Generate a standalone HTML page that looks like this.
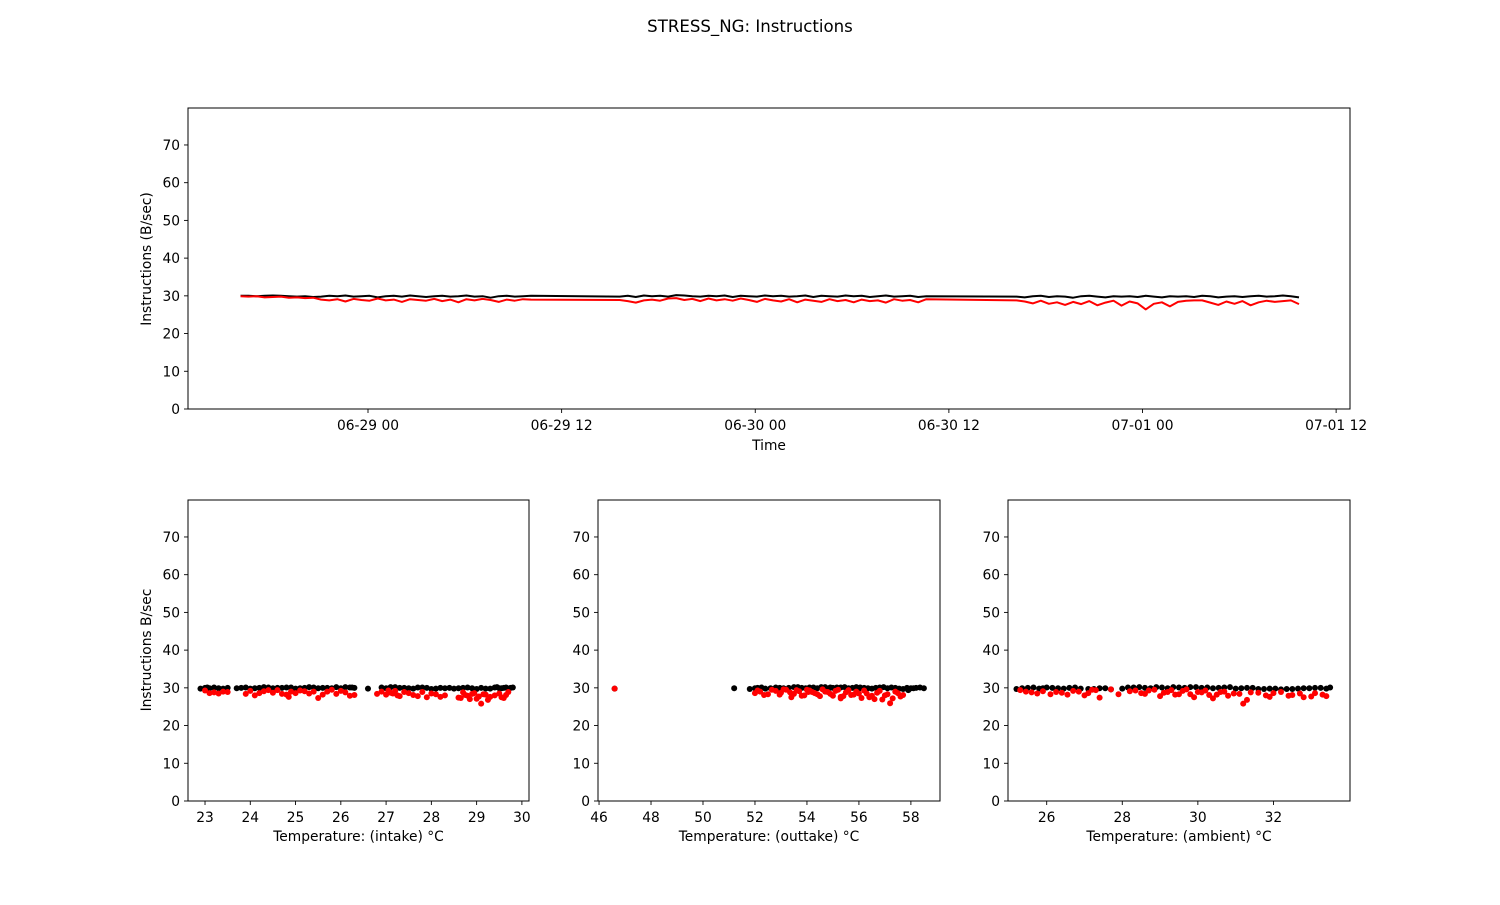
<!DOCTYPE html>
<html><head><meta charset="utf-8"><style>
body{margin:0;background:#fff;}
svg text{font-family:"DejaVu Sans","Liberation Sans",sans-serif;fill:#000;}
</style></head><body>
<svg id="fig" width="1500" height="900" xmlns="http://www.w3.org/2000/svg">
<rect width="1500" height="900" fill="#fff"/>
<text x="750" y="32" text-anchor="middle" font-size="16.6">STRESS_NG: Instructions</text>
</svg>
<script>
// Time series data (hours relative to 06-29 00:00)
const segStart = [-7.9, 15.6, 40.2];
const segStep = [0.5, 0.5, 0.5];
const blackSeg1 = [30.0,30.0,29.9,30.0,30.1,30.0,29.9,29.8,29.9,29.7,29.8,30.0,29.9,30.1,29.8,29.9,30.0,29.6,29.9,30.0,29.8,30.1,29.9,29.7,29.9,30.0,29.8,29.9,30.1,29.8,29.9,29.5,29.9,30.0,29.8,29.9,30.0];
const redSeg1 = [29.9,29.8,29.9,29.6,29.7,29.8,29.5,29.6,29.4,29.5,29.0,28.8,29.1,28.5,29.2,28.9,28.7,29.3,28.8,29.0,28.4,29.1,28.9,28.7,29.2,28.6,29.0,28.3,29.1,28.8,29.2,28.9,28.4,29.0,28.7,29.1,29.0];
const blackSeg2 = [29.8,30.0,29.7,30.1,29.9,30.0,29.8,30.2,30.1,29.9,29.8,30.0,29.9,30.1,29.7,30.0,29.9,29.8,30.1,29.9,30.0,29.8,29.9,30.1,29.7,30.0,29.9,29.8,30.1,29.9,30.0,29.7,29.9,30.1,29.8,29.9,30.0,29.7,29.9];
const redSeg2 = [28.9,28.6,28.2,28.8,29.0,28.7,29.3,29.4,28.9,29.2,28.6,29.3,28.8,29.1,28.7,29.3,28.9,28.4,29.2,28.8,28.5,29.1,28.3,29.0,28.7,28.4,29.1,28.6,28.9,28.3,29.0,28.6,28.8,28.2,29.1,28.7,28.9,28.3,29.1];
const blackSeg3 = [29.8,29.6,29.9,30.0,29.7,29.9,29.8,29.5,29.9,30.0,29.8,29.6,29.9,29.8,29.9,29.7,30.0,29.8,29.6,29.9,29.8,29.9,29.7,30.0,29.9,29.6,29.8,29.9,29.7,29.9,30.0,29.8,29.9,30.1,29.9,29.6];
const redSeg3 = [28.8,28.5,28.0,28.7,27.9,28.3,27.6,28.4,27.8,28.6,27.5,28.2,28.7,27.4,28.5,28.0,26.4,27.9,28.3,27.2,28.4,28.7,28.8,28.8,28.2,27.6,28.5,27.9,28.6,27.5,28.3,28.7,28.4,28.6,28.8,27.8];
const timeTicks = [0, 12, 24, 36, 48, 60];
const timeTickLabels = ["06-29 00","06-29 12","06-30 00","06-30 12","07-01 00","07-01 12"];
const yTicks = [0,10,20,30,40,50,60,70];

// Scatter data
const intakeBlackT = [22.9,23.0,23.1,23.2,23.4,23.5,23.7,23.9,24.0,24.2,24.4,24.5,24.7,24.9,25.0,25.2,25.4,25.5,25.7,25.9,26.0,26.2,26.3,26.6,26.9,27.0,27.2,27.4,27.6,27.8,28.0,28.2,28.3,28.5,28.7,28.9,29.0,29.1,29.3,29.4,29.5,29.6,29.7,29.8,
 23.05,23.3,23.8,24.1,24.3,24.6,24.8,25.1,25.3,25.6,25.8,26.1,26.25,27.1,27.3,27.5,27.7,27.9,28.1,28.6,28.8,29.2,29.45,29.55,29.65,29.75,28.4,27.05];
const intakeBlackV = [29.8,30.0,29.9,30.1,29.8,30.0,29.9,30.1,29.8,30.0,30.1,29.9,30.0,30.1,29.8,30.0,30.1,29.9,30.0,30.2,29.9,30.1,30.0,29.8,30.1,29.9,30.2,30.0,29.8,30.1,29.7,30.0,29.9,29.8,30.0,29.9,29.7,30.0,29.8,30.1,29.9,30.0,29.8,30.1,
 30.1,29.9,30.0,29.9,30.2,30.0,30.1,29.9,30.2,30.0,29.9,30.2,30.1,30.2,30.0,29.9,30.1,30.0,29.8,29.9,30.1,29.8,30.2,29.9,30.1,30.0,30.0,29.8];
const intakeRedT = [23.0,23.2,23.3,23.5,23.9,24.0,24.2,24.3,24.5,24.6,24.8,24.9,25.0,25.1,25.3,25.5,25.7,25.9,26.0,26.1,26.3,26.8,26.9,27.0,27.1,27.2,27.3,27.5,27.6,27.8,27.9,28.1,28.3,28.6,28.7,28.8,28.9,29.0,29.1,29.2,29.3,29.5,29.6,29.7,
 23.1,23.4,24.1,24.4,24.7,25.2,25.6,25.8,26.2,27.05,27.25,27.4,27.7,28.0,28.2,28.75,28.85,28.95,29.05,29.15,29.25,29.4,29.55,29.65,24.85,25.4,27.15,28.65];
const intakeRedV = [29.3,28.8,28.5,28.9,28.4,29.2,28.6,29.1,28.7,29.4,28.2,29.0,28.6,29.3,28.5,27.3,29.0,28.4,29.2,28.8,28.1,28.4,29.0,28.2,28.7,29.2,27.8,28.6,28.1,28.9,27.5,28.3,28.0,27.4,28.8,27.9,28.4,27.1,25.8,28.2,27.6,28.5,27.3,28.9,
 28.6,29.0,28.0,29.4,28.4,29.1,28.2,29.5,27.9,29.3,28.0,28.9,27.8,28.5,27.6,28.1,27.0,28.6,27.7,28.3,26.8,28.0,27.5,28.1,27.6,29.0,28.5,27.3];
const outBlackT = [46.6,51.2,51.8,52.1,52.4,52.8,53.1,53.5,53.8,54.1,54.4,54.7,55.0,55.3,55.6,55.9,56.2,56.5,56.8,57.1,57.4,57.7,58.0,58.2,58.5,52.6,53.3,54.9,56.0,57.9,
 52.0,52.25,52.95,53.65,53.95,54.25,54.55,54.85,55.15,55.45,55.75,56.05,56.35,56.65,56.95,57.25,57.55,57.85,58.1,58.35];
const outBlackV = [29.8,29.9,29.7,30.0,29.8,30.1,29.9,30.2,30.0,30.1,29.9,30.2,30.0,30.1,29.9,30.2,30.0,29.8,30.1,29.9,30.0,29.7,29.9,30.0,29.9,29.9,30.0,30.1,29.8,29.4,
 29.9,30.1,30.0,30.2,29.9,30.1,30.2,29.9,30.1,30.2,30.0,30.1,29.9,30.0,30.2,30.1,29.8,30.0,29.9,30.1];
const outRedT = [46.6,52.0,52.2,52.5,52.8,53.0,53.2,53.5,53.7,53.9,54.1,54.3,54.5,54.7,54.9,55.1,55.3,55.5,55.7,55.9,56.1,56.3,56.5,56.7,56.9,57.1,57.3,57.5,57.7,53.4,54.2,55.0,55.8,56.6,57.2,
 52.1,52.35,52.65,52.95,53.1,53.35,53.6,53.8,54.0,54.4,54.6,54.8,55.2,55.4,55.6,56.0,56.2,56.4,56.8,57.0,57.4,57.6,55.3,54.05];
const outRedV = [29.8,28.6,29.0,28.3,29.2,28.7,29.5,28.4,29.1,28.0,29.3,28.6,27.8,29.0,28.4,29.2,27.6,28.8,28.1,29.0,27.3,28.5,27.9,28.7,26.9,28.3,27.2,28.6,28.1,27.5,28.9,27.9,28.2,27.0,25.9,
 29.3,28.1,29.5,28.2,29.6,28.8,29.4,27.9,29.5,28.3,29.6,28.9,29.5,27.8,29.4,28.5,29.3,27.5,29.2,28.0,29.0,27.7,27.2,28.9];
const ambBlackT = [25.2,25.5,25.8,26.0,26.3,26.6,26.9,27.1,27.4,27.7,28.0,28.3,28.6,28.9,29.2,29.5,29.8,30.1,30.4,30.7,31.0,31.3,31.6,31.9,32.2,32.5,32.8,33.1,33.4,33.5,
 25.35,25.65,25.9,26.15,26.45,26.75,27.25,27.55,28.15,28.45,28.75,29.05,29.35,29.65,29.95,30.25,30.55,30.85,31.15,31.45,31.75,32.05,32.35,32.65,32.95,33.25];
const ambBlackV = [29.7,30.0,29.8,30.1,29.9,30.0,29.8,29.7,29.9,29.6,29.8,30.1,30.0,30.2,29.9,30.1,30.2,30.0,29.9,30.1,29.8,30.0,29.7,29.8,29.6,29.7,29.9,30.0,29.8,30.1,
 29.9,30.1,29.9,30.0,29.8,30.1,29.7,29.9,30.1,30.2,29.9,30.1,30.2,30.0,30.2,30.1,30.0,30.2,29.9,30.0,29.7,29.8,29.7,29.8,29.9,30.0];
const ambRedT = [25.3,25.6,25.9,26.1,26.4,26.7,27.0,27.2,27.4,27.7,27.9,28.2,28.5,28.7,29.0,29.2,29.4,29.6,29.9,30.1,30.3,30.6,30.8,31.1,31.3,31.6,31.9,32.2,32.5,32.8,33.1,33.4,29.8,30.4,31.2,
 25.45,25.75,26.25,26.55,26.85,27.1,27.3,28.35,28.6,28.85,29.1,29.3,29.5,29.7,30.0,30.2,30.5,30.7,30.95,31.4,31.8,32.0,32.4,32.7,33.0,33.3];
const ambRedV = [29.4,28.8,29.1,28.3,28.7,29.2,28.0,29.5,27.4,29.6,28.3,29.1,28.6,29.3,27.8,28.9,28.2,29.2,27.5,28.8,28.1,28.9,27.9,28.4,26.8,28.7,27.6,28.9,28.1,27.5,28.6,27.8,28.3,27.2,25.8,
 29.0,28.5,28.9,28.2,29.0,28.6,29.4,29.3,28.4,29.5,28.7,29.4,28.3,29.6,28.9,29.3,28.2,29.0,28.5,28.8,28.0,28.6,27.9,28.5,27.7,28.2];

const NS = "http://www.w3.org/2000/svg";
const svg = document.getElementById('fig');
function mk(tag, attrs, parent){const e=document.createElementNS(NS,tag);for(const k in attrs)e.setAttribute(k,attrs[k]);(parent||svg).appendChild(e);return e;}
function lin(d0,d1,r0,r1){return v=>r0+(v-d0)*(r1-r0)/(d1-d0);}
const FS=13.8;

function axesFrame(x0,y0,x1,y1,name,ys){
  const g=mk('g',{});
  
  
  yTicks.forEach(t=>{
    const y=ys(t);
    mk('line',{x1:x0-4,x2:x0,y1:y,y2:y,stroke:'#000','stroke-width':0.9},g);
    const tx=mk('text',{x:x0-8,y:y+5,'text-anchor':'end','font-size':FS},g);
    tx.textContent=t;
    
    
  });
  return g;
}
function frameRect(x0,y0,x1,y1,g){mk('rect',{x:x0,y:y0,width:x1-x0,height:y1-y0,fill:'none',stroke:'#000','stroke-width':1},g);}
function xTick(g,x,y,label){
  mk('line',{x1:x,x2:x,y1:y,y2:y+4,stroke:'#000','stroke-width':0.9},g);
  const tx=mk('text',{x:x,y:y+21,'text-anchor':'middle','font-size':FS},g);
  tx.textContent=label;
  
  
}
function label(x,y,txt,name,rot){
  const t=mk('text',{x:x,y:y,'text-anchor':'middle','font-size':FS});
  if(rot)t.setAttribute('transform','rotate(-90 '+x+' '+y+')');
  t.textContent=txt;
  
  
}

// Top time series
const TX0=188,TX1=1350,TY0=108,TY1=409;
const tys=lin(0,79.8,TY1,TY0);
const txs=lin(0,48,368,1142.5);
const gTop=axesFrame(TX0,TY0,TX1,TY1,'time-series-axes',tys);
timeTicks.forEach((t,i)=>xTick(gTop,txs(t),TY1,timeTickLabels[i]));
function series(segs,color,name){
  let pts=[];
  segs.forEach((s,k)=>s.forEach((v,i)=>pts.push(txs(segStart[k]+i*segStep[k]).toFixed(1)+','+tys(v).toFixed(1))));
  const p=mk('polyline',{points:pts.join(' '),fill:'none',stroke:color,'stroke-width':2,'stroke-linejoin':'round'});
  
  
}
series([blackSeg1,blackSeg2,blackSeg3],'#000','series-black-line');
series([redSeg1,redSeg2,redSeg3],'#f00','series-red-line');
frameRect(TX0,TY0,TX1,TY1,gTop);
label(769,450,'Time','x-axis-title-time');
label(151,259,'Instructions (B/sec)','y-axis-title-top',true);

// Scatter panels
const BY0=500,BY1=801;
const bys=lin(0,79.8,BY1,BY0);
function scatter(x0,x1,xd0,xd1,ticks,name,xt,bT,bV,rT,rV,title){
  const xs=lin(xd0,xd1,x0,x1);
  const g=axesFrame(x0,BY0,x1,BY1,name,bys);
  ticks.forEach(t=>xTick(g,xs(t),BY1,String(t)));
  bT.forEach((t,i)=>{const c=mk('circle',{cx:xs(t),cy:bys(bV[i]),r:3,fill:'#000'});
    
    });
  rT.forEach((t,i)=>{const c=mk('circle',{cx:xs(t),cy:bys(rV[i]),r:3,fill:'#f00'});
    
    });
  frameRect(x0,BY0,x1,BY1,g);
  label((x0+x1)/2,841,title,xt);
}
scatter(188,529,22.624,30.157,[23,24,25,26,27,28,29,30],'intake-scatter-axes','x-axis-title-intake',intakeBlackT,intakeBlackV,intakeRedT,intakeRedV,'Temperature: (intake) °C');
scatter(598,940,45.96,59.12,[46,48,50,52,54,56,58],'outtake-scatter-axes','x-axis-title-outtake',outBlackT,outBlackV,outRedT,outRedV,'Temperature: (outtake) °C');
scatter(1008,1350,24.976,34.026,[26,28,30,32],'ambient-scatter-axes','x-axis-title-ambient',ambBlackT,ambBlackV,ambRedT,ambRedV,'Temperature: (ambient) °C');
label(151,650,'Instructions B/sec','y-axis-title-bottom',true);
</script>
</body></html>
